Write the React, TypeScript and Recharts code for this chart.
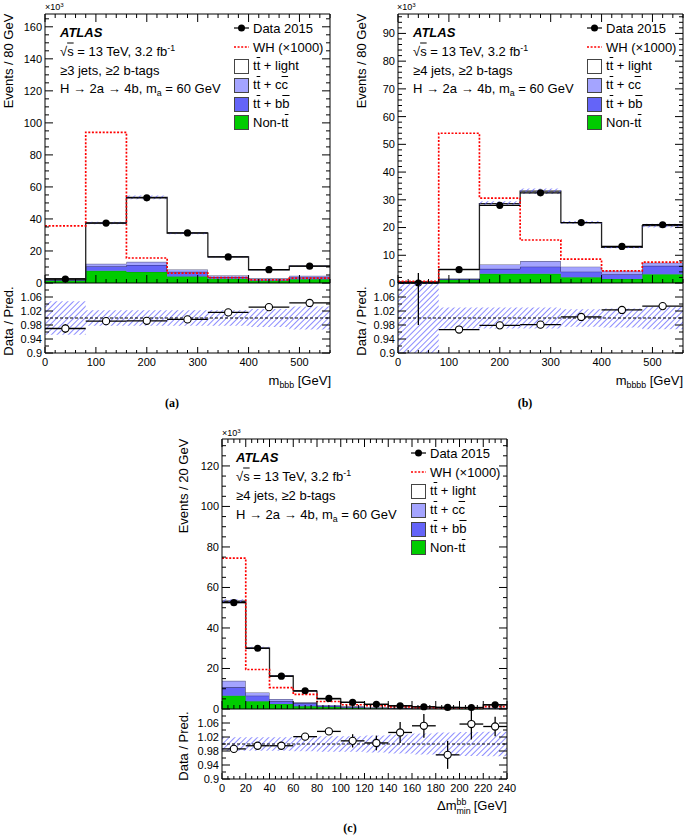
import React from "react";
import {
  ComposedChart,
  Area,
  Line,
  Scatter,
  XAxis,
  YAxis,
  ReferenceLine,
  ErrorBar,
  Legend,
} from "recharts";

const FONT = '"Liberation Sans", Arial, Helvetica, sans-serif';
const GREEN = "#00cc00";
const BB = "#6464f8";
const CC = "#a4a4ff";
const HATCH = "#5a5aff";
const RED = "#ff0000";

// ---------------- panel (a): m_bbb ----------------
const edgesA = [0, 80, 160, 240, 320, 400, 480, 560];
const nonTtA = [1.5, 7.6, 6.8, 4.1, 2.7, 1.4, 2.3];
const ttbbA = [0.3, 2.7, 4.5, 2.9, 1.0, 0.7, 1.2];
const ttccA = [0.2, 1.7, 1.9, 1.5, 1.0, 0.8, 1.0];
const ttLightA = [0.6, 25.5, 40.3, 22.7, 11.6, 5.3, 6.1];
const dataA = [2.5, 37.4, 53.2, 31.3, 16.3, 8.3, 10.5];
const whA = [35.7, 94.1, 15.6, 6.2, 3.3, 1.9, 3.1];
const ratioA = [0.97, 0.991, 0.992, 0.996, 1.016, 1.031, 1.043];
const ratioErrA = [0.012, 0.003, 0.002, 0.003, 0.004, 0.005, 0.006];
const bandErrA = [0.048, 0.022, 0.022, 0.022, 0.022, 0.026, 0.033];

// ---------------- panel (b): m_bbbb ----------------
const edgesB = [0, 80, 160, 240, 320, 400, 480, 560];
const nonTtB = [0.1, 1.2, 3.3, 3.3, 2.1, 1.4, 3.2];
const ttbbB = [0.1, 0.2, 1.8, 2.6, 2.0, 1.8, 3.0];
const ttccB = [0.1, 0.2, 1.6, 2.0, 1.8, 1.2, 1.1];
const ttLightB = [0.1, 3.3, 21.9, 25.2, 15.9, 8.5, 13.4];
const dataB = [0, 4.8, 28.0, 32.5, 21.8, 13.2, 21.0];
const whB = [0.6, 54.0, 30.6, 15.5, 8.6, 4.4, 7.5];
const ratioB = [1.3, 0.967, 0.979, 0.981, 1.003, 1.023, 1.034];
const ratioErrB = [0.32, 0.004, 0.003, 0.003, 0.003, 0.004, 0.005];
const bandErrB = [0.2, 0.03, 0.03, 0.03, 0.025, 0.027, 0.032];

// ---------------- panel (c): Δm_min^bb ----------------
const edgesC = [0, 20, 40, 60, 80, 100, 120, 140, 160, 180, 200, 220, 240];
const nonTtC = [6.6, 3.8, 2.5, 1.3, 1.0, 0.6, 0.4, 0.3, 0.2, 0.2, 0.1, 0.3];
const ttbbC = [4.1, 2.8, 1.3, 1.5, 0.5, 0.4, 0.2, 0.2, 0.1, 0.1, 0.1, 0.2];
const ttccC = [3.2, 1.6, 1.1, 0.5, 0.5, 0.3, 0.3, 0.1, 0.1, 0.1, 0.1, 0.1];
const ttLightC = [39.3, 21.9, 11.4, 5.5, 3.0, 2.0, 1.4, 0.95, 0.65, 0.43, 0.4, 1.4];
const dataC = [52.5, 30.0, 16.2, 9.0, 5.2, 3.3, 2.3, 1.6, 1.1, 0.8, 0.75, 2.1];
const whC = [74.5, 19.5, 10.6, 7.2, 3.7, 2.1, 1.6, 1.0, 0.7, 0.5, 0.5, 1.2];
const ratioC = [0.986, 0.995, 0.995, 1.021, 1.036, 1.009, 1.003, 1.033, 1.052, 0.969, 1.057, 1.05];
const ratioErrC = [0.003, 0.003, 0.004, 0.006, 0.007, 0.019, 0.021, 0.03, 0.034, 0.04, 0.044, 0.028];
const bandErrC = [0.019, 0.019, 0.019, 0.021, 0.022, 0.022, 0.024, 0.027, 0.03, 0.033, 0.034, 0.035];

// ---------------- tick labels ----------------
const xMajorAB = [0, 100, 200, 300, 400, 500];
const xMajorC = [0, 20, 40, 60, 80, 100, 120, 140, 160, 180, 200, 220, 240];
const yMajorA = [0, 20, 40, 60, 80, 100, 120, 140, 160];
const yMajorB = [0, 10, 20, 30, 40, 50, 60, 70, 80, 90];
const yMajorC = [0, 20, 40, 60, 80, 100, 120];
const ratioTickLabels = ["0.9", "0.94", "0.98", "1.02", "1.06"];

// ---------------- layout constants ----------------
const YW = 40;
const MR = 14;
const MT = 6;
const XHM = 6;
const RT = 10;
const XHR = 24;
const TXT = 13;

const range = (a: number, b: number, s: number) => {
  const out: number[] = [];
  for (let v = a; v <= b + 1e-9; v += s) out.push(Math.round(v * 1000) / 1000);
  return out;
};
const isMajor = (v: number, majors: number[]) => majors.some((m) => Math.abs(m - v) < 1e-6);

type Cfg = {
  id: string;
  left: number;
  top: number;
  w: number;
  hMain: number;
  hRatio: number;
  edges: number[];
  xMax: number;
  xMajor: number[];
  xMinor: number;
  yMax: number;
  yMajor: number[];
  yMinor: number;
  nonTt: number[];
  ttbb: number[];
  ttcc: number[];
  light: number[];
  data: number[];
  wh: number[];
  ratio: number[];
  ratioErr: number[];
  bandErr: number[];
};

const Ov = ({ children }: { children: any }) => (
  <span style={{ textDecoration: "overline" }}>{children}</span>
);
const Sup = ({ children }: { children: any }) => (
  <span style={{ fontSize: "0.68em", position: "relative", top: "-0.55em" }}>{children}</span>
);
const Sub = ({ children }: { children: any }) => (
  <span style={{ fontSize: "0.68em", position: "relative", top: "0.35em" }}>{children}</span>
);

const legendRows: { kind: string; color?: string; label: any }[] = [
  { kind: "data", label: "Data 2015" },
  { kind: "wh", label: "WH (\u00d71000)" },
  { kind: "box", color: "#ffffff", label: <>t<Ov>t</Ov> + light</> },
  { kind: "box", color: CC, label: <>t<Ov>t</Ov> + c<Ov>c</Ov></> },
  { kind: "box", color: BB, label: <>t<Ov>t</Ov> + b<Ov>b</Ov></> },
  { kind: "box", color: GREEN, label: <>Non-t<Ov>t</Ov></> },
];

const renderLegend = () => (
  <div style={{ fontFamily: FONT, fontSize: TXT, lineHeight: 1, color: "#000" }}>
    {legendRows.map((r, i) => (
      <div key={i} style={{ display: "flex", alignItems: "center", height: 18.8 }}>
        <div style={{ width: 15, height: 14, marginRight: 4, flex: "none", position: "relative" }}>
          {r.kind === "data" && (
            <svg width={15} height={14} style={{ display: "block" }}>
              <line x1={0} x2={15} y1={7} y2={7} stroke="#000" strokeWidth={1.2} />
              <circle cx={7.5} cy={7} r={3.5} fill="#000" />
            </svg>
          )}
          {r.kind === "wh" && (
            <svg width={15} height={14} style={{ display: "block" }}>
              <line x1={0} x2={15} y1={7} y2={7} stroke={RED} strokeWidth={1.6} strokeDasharray="2 1.6" />
            </svg>
          )}
          {r.kind === "box" && (
            <div
              style={{
                width: 13,
                height: 13,
                background: r.color,
                border: "1px solid #444",
                boxSizing: "content-box",
              }}
            />
          )}
        </div>
        <span style={{ whiteSpace: "nowrap" }}>{r.label}</span>
      </div>
    ))}
  </div>
);

const Hatch = ({ id }: { id: string }) => (
  <defs>
    <pattern id={id} width={4} height={4} patternUnits="userSpaceOnUse" patternTransform="rotate(45)">
      <line x1={0} y1={0} x2={0} y2={4} stroke={HATCH} strokeWidth={1.4} />
    </pattern>
  </defs>
);

const filledDot = (p: any) => <circle cx={p.cx} cy={p.cy} r={3.6} fill="#000" />;
const openDot = (p: any) => <circle cx={p.cx} cy={p.cy} r={3.6} fill="#fff" stroke="#000" strokeWidth={1.1} />;

function Panel({ c }: { c: Cfg }) {
  const nb = c.edges.length - 1;
  const total = c.edges.slice(0, nb).map((_, i) => c.nonTt[i] + c.ttbb[i] + c.ttcc[i] + c.light[i]);
  const mainRows = c.edges.map((x, i) => {
    const j = Math.min(i, nb - 1);
    return {
      x,
      nonTt: c.nonTt[j],
      ttbb: c.ttbb[j],
      ttcc: c.ttcc[j],
      light: c.light[j],
      wh: c.wh[j],
      band: [total[j] * (1 - c.bandErr[j]), total[j] * (1 + c.bandErr[j])],
    };
  });
  const ratioRows = c.edges.map((x, i) => {
    const j = Math.min(i, nb - 1);
    return { x, band: [Math.max(0.9, 1 - c.bandErr[j]), Math.min(1.1, 1 + c.bandErr[j])] };
  });
  const pts = c.data.map((v, i) => ({
    x: (c.edges[i] + c.edges[i + 1]) / 2,
    y: v,
    ex: (c.edges[i + 1] - c.edges[i]) / 2,
  }));
  const rpts = c.ratio.map((v, i) => ({
    x: (c.edges[i] + c.edges[i + 1]) / 2,
    y: v,
    ex: (c.edges[i + 1] - c.edges[i]) / 2,
    ey: c.ratioErr[i],
  }));

  const xTicks = range(0, c.xMax, c.xMinor);
  const yTicks = range(0, c.yMax - 0.5, c.yMinor);
  const ratioMajor = ratioTickLabels.map((s) => parseFloat(s));
  const rTicks = range(0.9, 1.08, 0.02);

  const mainYTick = (props: any) => {
    const { y, payload } = props;
    const v = payload.value;
    const maj = isMajor(v, c.yMajor);
    const len = maj ? 8 : 4;
    const x0 = YW;
    const x1 = YW + c.w;
    return (
      <g>
        <line x1={x0} x2={x0 + len} y1={y} y2={y} stroke="#000" strokeWidth={1} />
        <line x1={x1 - len} x2={x1} y1={y} y2={y} stroke="#000" strokeWidth={1} />
        {maj ? (
          <text x={x0 - 3} y={y} dy="0.36em" textAnchor="end" fontSize={11} fontFamily={FONT} fill="#000">
            {String(v)}
          </text>
        ) : null}
      </g>
    );
  };
  const mainXTick = (props: any) => {
    const { x, payload } = props;
    const maj = isMajor(payload.value, c.xMajor);
    const len = maj ? 8 : 4;
    return (
      <g>
        <line x1={x} x2={x} y1={MT} y2={MT + len} stroke="#000" strokeWidth={1} />
      </g>
    );
  };
  const ratioYTick = (props: any) => {
    const { y, payload } = props;
    const v = payload.value;
    const idx = ratioMajor.findIndex((m) => Math.abs(m - v) < 1e-6);
    const maj = idx >= 0;
    const len = maj ? 8 : 4;
    const x0 = YW;
    const x1 = YW + c.w;
    return (
      <g>
        <line x1={x0} x2={x0 + len} y1={y} y2={y} stroke="#000" strokeWidth={1} />
        <line x1={x1 - len} x2={x1} y1={y} y2={y} stroke="#000" strokeWidth={1} />
        {maj ? (
          <text x={x0 - 3} y={y} dy="0.36em" textAnchor="end" fontSize={11} fontFamily={FONT} fill="#000">
            {ratioTickLabels[idx]}
          </text>
        ) : null}
      </g>
    );
  };
  const ratioXTick = (props: any) => {
    const { x, payload } = props;
    const v = payload.value;
    const maj = isMajor(v, c.xMajor);
    const yb = RT + c.hRatio;
    return (
      <g>
        <line x1={x} x2={x} y1={yb} y2={yb - (maj ? 6 : 3)} stroke="#000" strokeWidth={1} />
        <line x1={x} x2={x} y1={RT} y2={RT - (maj ? 8 : 4)} stroke="#000" strokeWidth={1} />
        {maj ? (
          <text x={x} y={yb + 9} dy="0.36em" textAnchor="middle" fontSize={11} fontFamily={FONT} fill="#000">
            {String(v)}
          </text>
        ) : null}
      </g>
    );
  };

  const W = YW + c.w + MR;
  return (
    <>
      <div style={{ position: "absolute", left: c.left - YW, top: c.top - MT }}>
        <ComposedChart
          width={W}
          height={MT + c.hMain + XHM}
          data={mainRows}
          margin={{ top: MT, right: MR, bottom: 0, left: 0 }}
        >
          <Hatch id={`hatch-${c.id}-m`} />
          <XAxis
            type="number"
            dataKey="x"
            domain={[0, c.xMax]}
            ticks={xTicks}
            interval={0}
            allowDataOverflow
            height={XHM}
            axisLine={false}
            tickLine={false}
            tick={mainXTick}
          />
          <YAxis
            type="number"
            domain={[0, c.yMax]}
            ticks={yTicks}
            interval={0}
            width={YW}
            axisLine={{ stroke: "#000" }}
            tickLine={false}
            tick={mainYTick}
          />
          <Area type="stepAfter" dataKey="nonTt" stackId="s" fill={GREEN} fillOpacity={1} stroke="#00a000" strokeWidth={0.8} isAnimationActive={false} activeDot={false} />
          <Area type="stepAfter" dataKey="ttbb" stackId="s" fill={BB} fillOpacity={1} stroke="#202060" strokeWidth={1} isAnimationActive={false} activeDot={false} />
          <Area type="stepAfter" dataKey="ttcc" stackId="s" fill={CC} fillOpacity={1} stroke="#555577" strokeWidth={1} isAnimationActive={false} activeDot={false} />
          <Area type="stepAfter" dataKey="light" stackId="s" fill="#ffffff" fillOpacity={1} stroke="#222" strokeWidth={1.3} isAnimationActive={false} activeDot={false} />
          <Area type="stepAfter" dataKey="band" fill={`url(#hatch-${c.id}-m)`} fillOpacity={1} stroke="none" isAnimationActive={false} activeDot={false} />
          <Line type="stepAfter" dataKey="wh" stroke={RED} strokeWidth={1.7} strokeDasharray="2 1.6" dot={false} activeDot={false} isAnimationActive={false} />
          <Scatter data={pts} dataKey="y" shape={filledDot} isAnimationActive={false}>
            <ErrorBar dataKey="ex" direction="x" width={0} stroke="#000" strokeWidth={1.3} isAnimationActive={false} />
          </Scatter>
          <ReferenceLine y={c.yMax} stroke="#000" strokeWidth={1} />
          <ReferenceLine x={c.xMax} stroke="#000" strokeWidth={1} />
          <Legend
            content={renderLegend}
            layout="vertical"
            align="center"
            verticalAlign="middle"
            wrapperStyle={{ left: 229, top: 11, width: 130 }}
          />
        </ComposedChart>
      </div>
      <div style={{ position: "absolute", left: c.left - YW, top: c.top + c.hMain - RT }}>
        <ComposedChart
          width={W}
          height={RT + c.hRatio + XHR}
          data={ratioRows}
          margin={{ top: RT, right: MR, bottom: 0, left: 0 }}
        >
          <Hatch id={`hatch-${c.id}-r`} />
          <XAxis
            type="number"
            dataKey="x"
            domain={[0, c.xMax]}
            ticks={xTicks}
            interval={0}
            allowDataOverflow
            height={XHR}
            axisLine={{ stroke: "#000" }}
            tickLine={false}
            tick={ratioXTick}
          />
          <YAxis
            type="number"
            domain={[0.9, 1.1]}
            allowDataOverflow
            ticks={rTicks}
            interval={0}
            width={YW}
            axisLine={{ stroke: "#000" }}
            tickLine={false}
            tick={ratioYTick}
          />
          <Area type="stepAfter" dataKey="band" fill={`url(#hatch-${c.id}-r)`} fillOpacity={1} stroke="none" isAnimationActive={false} activeDot={false} />
          <ReferenceLine y={1} stroke="#000" strokeDasharray="3 2" strokeWidth={1} />
          <Scatter data={rpts} dataKey="y" shape={openDot} isAnimationActive={false}>
            <ErrorBar dataKey="ex" direction="x" width={0} stroke="#000" strokeWidth={1.3} isAnimationActive={false} />
            <ErrorBar dataKey="ey" direction="y" width={0} stroke="#000" strokeWidth={1.3} isAnimationActive={false} />
          </Scatter>
          <ReferenceLine y={1.1} stroke="#000" strokeWidth={1} />
          <ReferenceLine x={c.xMax} stroke="#000" strokeWidth={1} />
        </ComposedChart>
      </div>
    </>
  );
}

const panelA: Cfg = {
  id: "a", left: 45, top: 14, w: 285, hMain: 269, hRatio: 70,
  edges: edgesA, xMax: 560, xMajor: xMajorAB, xMinor: 20,
  yMax: 168, yMajor: yMajorA, yMinor: 5,
  nonTt: nonTtA, ttbb: ttbbA, ttcc: ttccA, light: ttLightA, data: dataA, wh: whA,
  ratio: ratioA, ratioErr: ratioErrA, bandErr: bandErrA,
};
const panelB: Cfg = {
  id: "b", left: 398, top: 14, w: 285, hMain: 269, hRatio: 70,
  edges: edgesB, xMax: 560, xMajor: xMajorAB, xMinor: 20,
  yMax: 97, yMajor: yMajorB, yMinor: 2,
  nonTt: nonTtB, ttbb: ttbbB, ttcc: ttccB, light: ttLightB, data: dataB, wh: whB,
  ratio: ratioB, ratioErr: ratioErrB, bandErr: bandErrB,
};
const panelC: Cfg = {
  id: "c", left: 222, top: 439, w: 285, hMain: 270, hRatio: 70,
  edges: edgesC, xMax: 240, xMajor: xMajorC, xMinor: 5,
  yMax: 133.3, yMajor: yMajorC, yMinor: 5,
  nonTt: nonTtC, ttbb: ttbbC, ttcc: ttccC, light: ttLightC, data: dataC, wh: whC,
  ratio: ratioC, ratioErr: ratioErrC, bandErr: bandErrC,
};

const Txt = ({
  x, y, size = TXT, anchor = "start", weight = "normal", italic = false, family = FONT, children,
}: any) => {
  const tx = anchor === "start" ? "0" : anchor === "end" ? "-100%" : "-50%";
  return (
    <div
      style={{
        position: "absolute",
        left: x,
        top: y,
        transform: `translate(${tx}, -50%)`,
        fontFamily: family,
        fontSize: size,
        fontWeight: weight,
        fontStyle: italic ? "italic" : "normal",
        whiteSpace: "nowrap",
        lineHeight: 1,
        color: "#000",
      }}
    >
      {children}
    </div>
  );
};

const VTxt = ({ x, y, size = 13, children }: any) => (
  <div
    style={{
      position: "absolute",
      left: x,
      top: y,
      transform: "translate(-50%, -50%) rotate(-90deg)",
      fontFamily: FONT,
      fontSize: size,
      whiteSpace: "nowrap",
      lineHeight: 1,
      color: "#000",
    }}
  >
    {children}
  </div>
);

const InfoBlock = ({ x, ys, jets }: { x: number; ys: number[]; jets: string }) => (
  <>
    <Txt x={x} y={ys[0]} weight="bold" italic>ATLAS</Txt>
    <Txt x={x} y={ys[1]}>
      {"\u221a"}<Ov>s</Ov> = 13 TeV, 3.2 fb<Sup>-1</Sup>
    </Txt>
    <Txt x={x} y={ys[2]}>{jets}</Txt>
    <Txt x={x} y={ys[3]}>
      H {"\u2192"} 2a {"\u2192"} 4b, m<Sub>a</Sub> = 60 GeV
    </Txt>
  </>
);

export default function App() {
  return (
    <div style={{ position: "absolute", left: 0, top: 0, width: 685, height: 836, background: "#fff", overflow: "hidden" }}>
      <Panel c={panelA} />
      <Panel c={panelB} />
      <Panel c={panelC} />

      {/* panel (a) texts */}
      <Txt x={45} y={7} size={9}>{"\u00d7"}10<Sup>3</Sup></Txt>
      <VTxt x={8} y={61}>Events / 80 GeV</VTxt>
      <VTxt x={8} y={321}>Data / Pred.</VTxt>
      <InfoBlock x={60} ys={[31.7, 50.5, 69.5, 88.3]} jets={"\u22653 jets, \u22652 b-tags"} />
      <Txt x={331} y={380} size={13} anchor="end">
        m<Sub>bbb</Sub> [GeV]
      </Txt>
      <Txt x={172} y={403} size={12} anchor="middle" weight="bold" family='"Liberation Serif", serif'>(a)</Txt>

      {/* panel (b) texts */}
      <Txt x={397} y={7} size={9}>{"\u00d7"}10<Sup>3</Sup></Txt>
      <VTxt x={360.5} y={61}>Events / 80 GeV</VTxt>
      <VTxt x={360.5} y={321}>Data / Pred.</VTxt>
      <InfoBlock x={413} ys={[31.7, 50.5, 69.5, 88.3]} jets={"\u22654 jets, \u22652 b-tags"} />
      <Txt x={683} y={380} size={13} anchor="end">
        m<Sub>bbbb</Sub> [GeV]
      </Txt>
      <Txt x={525} y={403} size={12} anchor="middle" weight="bold" family='"Liberation Serif", serif'>(b)</Txt>

      {/* panel (c) texts */}
      <Txt x={222} y={433} size={9}>{"\u00d7"}10<Sup>3</Sup></Txt>
      <VTxt x={183} y={486}>Events / 20 GeV</VTxt>
      <VTxt x={183} y={746}>Data / Pred.</VTxt>
      <InfoBlock x={236} ys={[456.7, 476, 495, 514]} jets={"\u22654 jets, \u22652 b-tags"} />
      <Txt x={507} y={807} size={13} anchor="end">
        {"\u0394"}m
        <span style={{ display: "inline-flex", flexDirection: "column", fontSize: "0.68em", lineHeight: 1, verticalAlign: "middle", marginRight: 3 }}>
          <span>bb</span>
          <span>min</span>
        </span>
        [GeV]
      </Txt>
      <Txt x={350} y={828} size={12} anchor="middle" weight="bold" family='"Liberation Serif", serif'>(c)</Txt>
    </div>
  );
}
